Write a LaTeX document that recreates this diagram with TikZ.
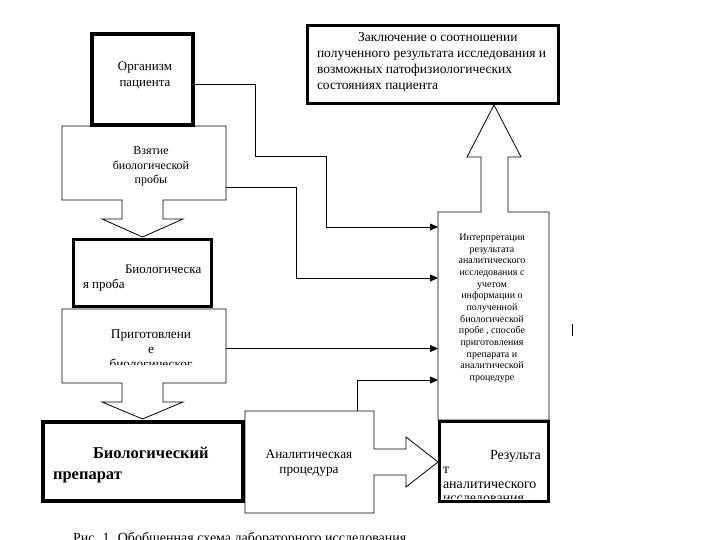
\documentclass[tikz,border=0pt]{standalone}
\usepackage{fontspec}
\setmainfont{Liberation Serif}
\usetikzlibrary{arrows.meta}

\tikzset{
  spot/.style={inner sep=0pt, outer sep=0pt},
  frame/.style={draw, inner sep=0pt, outer sep=0pt, line width=3pt},
  outline/.style={line width=0.8pt, line join=miter},
  link/.style={line width=0.8pt, -{Triangle[length=8pt,width=7pt]}},
  txt/.style={inner sep=0pt, outer sep=0pt, align=center},
}

\begin{document}
\begin{tikzpicture}[x=1pt,y=-1pt]
    \useasboundingbox (0,0) rectangle (720,540);
    \clip (0,0) rectangle (720,540);

    % Areas of the block arrows (for the connectors)
    \node[spot, minimum width=164pt, minimum height=74pt] (take) at (144,163) {};
    \node[spot, minimum width=164pt, minimum height=74pt] (prep) at (144,346) {};
    \node[spot, minimum width=129pt, minimum height=102pt] (analyt) at (309.5,462) {};
    \node[spot, minimum width=111pt, minimum height=208pt] (interp) at (493.5,316) {};

    % Draw the block arrows
    \draw[outline] (122,200) -- (62,200) -- (62,126) -- (226,126) -- (226,200) -- (163,200)
        -- (163,219) -- (183,219) -- (142.5,237) -- (102,219) -- (122,219) -- cycle;
    \draw[outline] (122,383) -- (62,383) -- (62,309) -- (226,309) -- (226,383) -- (163,383)
        -- (163,402) -- (183,402) -- (142.5,419) -- (102,402) -- (122,402) -- cycle;
    \draw[outline] (374,449) -- (374,411) -- (245,411) -- (245,513) -- (374,513) -- (374,475)
        -- (406,475) -- (406,487) -- (438,462) -- (406,437) -- (406,449) -- cycle;
    % interpretation box with the arrow going up out of it
    \draw[outline] (481,212) -- (438,212) -- (438,420) -- (549,420) -- (549,212) -- (508,212)
        -- (508,157) -- (521,157) -- (494,105) -- (467,157) -- (481,157) -- cycle;

    % Draw the framed boxes
    \node[frame, line width=4pt, minimum width=101pt, minimum height=91pt] (organism) at (142.5,79.5) {};
    \node[frame, minimum width=138pt, minimum height=67pt] (probe) at (142.5,273) {};
    \node[frame, line width=3.5pt, minimum width=200pt, minimum height=79pt] (preparat) at (143,461.5) {};
    \node[frame, minimum width=251pt, minimum height=78pt] (conclusion) at (433,64.5) {};
    \node[frame, minimum width=109pt, minimum height=80pt] (result) at (494,461.5) {};

    % Connectors to the interpretation
    \draw[link] (organism.east |- 0,84) -| (255,156) -| (326,227) -- (interp.west |- 0,227);
    \draw[link] (take.east |- 0,187) -| (296,278) -- (interp.west |- 0,278);
    \draw[link] (prep.east |- 0,348.5) -- (interp.west |- 0,348.5);
    \draw[link] (357,0 |- analyt.north) |- (interp.west |- 0,380);

    % Texts
    \node[txt, font=\fontsize{13}{16}\selectfont, anchor=north] (organismtext) at (145,62) {Организм\\пациента};
    \node[txt, font=\fontsize{12}{14.5}\selectfont, anchor=north] (taketext) at (151,147) {Взятие\\биологической\\пробы};
    \node[txt, font=\fontsize{13}{15}\selectfont, anchor=north west, align=left] (probetext) at (83,265)
        {\hspace*{42pt}Биологическа\\я проба};
    \begin{scope}
        \clip (62,309) rectangle (226,364.5);
        \node[txt, font=\fontsize{13.3}{15}\selectfont, anchor=north] (preptext) at (151,329.5)
            {Приготовлени\\е\\биологическог};
    \end{scope}
    \node[txt, font=\bfseries\fontsize{16.5}{21}\selectfont, anchor=north west, align=left] (preparattext) at (53,447)
        {\hspace*{40pt}Биологический\\препарат};
    \node[txt, font=\fontsize{13.3}{14.5}\selectfont, anchor=north] (analyttext) at (309,450) {Аналитическая\\процедура};
    \node[txt, font=\fontsize{10}{11.67}\selectfont, anchor=north] (interptext) at (492,234)
        {Интерпретация\\результата\\аналитического\\исследования с\\учетом\\информации о\\полученной\\биологической\\пробе , способе\\приготовления\\препарата и\\аналитической\\процедуре};
    \node[txt, font=\fontsize{13.5}{15.7}\selectfont, anchor=north west, align=left] (conclusiontext) at (317,33)
        {\hspace*{41pt}Заключение о соотношении\\полученного результата исследования и\\возможных патофизиологических\\состояниях пациента};
    \begin{scope}
        \clip (441,423) rectangle (547,498);
        \node[txt, font=\fontsize{14}{14.5}\selectfont, anchor=north west, align=left] (resulttext) at (443,450)
            {\hspace*{47pt}Результа\\т\\аналитического\\исследования};
    \end{scope}

    % stray mark at the right
    \draw[line width=0.8pt] (572,324) -- (572,336);

    % Caption
    \node[spot, font=\fontsize{14}{16}\selectfont, anchor=base west] (caption) at (73,542.5)
        {Рис. 1. Обобщенная схема лабораторного исследования};
\end{tikzpicture}
\end{document}
